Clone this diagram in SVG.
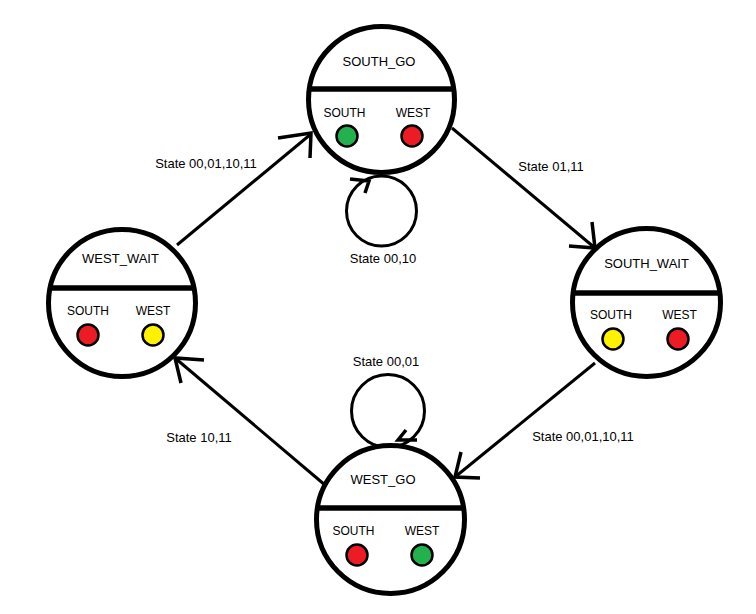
<svg xmlns="http://www.w3.org/2000/svg" width="756" height="614" viewBox="0 0 756 614">
<style>
.node{fill:#fff;stroke:#000;stroke-width:5}
.div{stroke:#000;stroke-width:5.5}
.edge{fill:none;stroke:#000;stroke-width:3}
.head{fill:none;stroke:#000;stroke-width:3.5}
.loop{fill:none;stroke:#000;stroke-width:3}
.lamp{stroke:#000;stroke-width:2.5}
.g{fill:#22b14c}.r{fill:#ed1c24}.y{fill:#fff200}
text{font-family:"Liberation Sans",Arial,sans-serif;fill:#000;text-anchor:middle}
.t{font-size:13px}.s{font-size:12px}.e{font-size:13px}
</style>
<rect width="756" height="614" fill="#fff"/>
<g id="connectors">
  <circle class="loop" cx="381.5" cy="211" r="35"/>
  <polyline class="head" points="350,179 369,181 365,193"/>
  <circle class="loop" cx="388" cy="411" r="36.5"/>
  <polyline class="head" points="417,440 398,440 406,430"/>
  <line class="edge" x1="177" y1="245" x2="311" y2="134"/>
  <polyline class="head" points="278,138 311,133 310,158"/>
  <line class="edge" x1="452" y1="128" x2="595" y2="248"/>
  <polyline class="head" points="569,246 595,248 592,222"/>
  <line class="edge" x1="595" y1="363" x2="455" y2="477"/>
  <polyline class="head" points="480,478 455,477 461,452"/>
  <line class="edge" x1="325" y1="485" x2="175" y2="358"/>
  <polyline class="head" points="204,360 175,358 181,383"/>
  <text class="e" x="206" y="168">State 00,01,10,11</text>
  <text class="e" x="551" y="171">State 01,11</text>
  <text class="e" x="583" y="441">State 00,01,10,11</text>
  <text class="e" x="199" y="442">State 10,11</text>
  <text class="e" x="383" y="263">State 00,10</text>
  <text class="e" x="386" y="366">State 00,01</text>
</g>
<g id="SOUTH_GO">
  <circle class="node" cx="381.5" cy="99.5" r="73"/>
  <line class="div" x1="308.8" y1="89" x2="454.2" y2="89"/>
  <text class="t" x="379" y="66">SOUTH_GO</text>
  <text class="s" x="344.5" y="117">SOUTH</text>
  <text class="s" x="413" y="117">WEST</text>
  <circle class="lamp g" cx="347" cy="136" r="10.5"/>
  <circle class="lamp r" cx="412" cy="136" r="10.5"/>
</g>
<g id="WEST_WAIT">
  <circle class="node" cx="122" cy="303" r="73.5"/>
  <line class="div" x1="48.7" y1="288" x2="195.3" y2="288"/>
  <text class="t" x="120.5" y="263">WEST_WAIT</text>
  <text class="s" x="88" y="315">SOUTH</text>
  <text class="s" x="153" y="315">WEST</text>
  <circle class="lamp r" cx="88" cy="335" r="10.5"/>
  <circle class="lamp y" cx="153" cy="335" r="10.5"/>
</g>
<g id="SOUTH_WAIT">
  <circle class="node" cx="646.5" cy="302.5" r="74"/>
  <line class="div" x1="573.1" y1="293" x2="719.9" y2="293"/>
  <text class="t" x="646.5" y="268">SOUTH_WAIT</text>
  <text class="s" x="611" y="319">SOUTH</text>
  <text class="s" x="679.5" y="319">WEST</text>
  <circle class="lamp y" cx="613" cy="339" r="10.5"/>
  <circle class="lamp r" cx="678" cy="339" r="10.5"/>
</g>
<g id="WEST_GO">
  <circle class="node" cx="390.5" cy="519.5" r="74"/>
  <line class="div" x1="317.3" y1="508" x2="463.7" y2="508"/>
  <text class="t" x="383" y="484">WEST_GO</text>
  <text class="s" x="353.5" y="535">SOUTH</text>
  <text class="s" x="422" y="535">WEST</text>
  <circle class="lamp r" cx="357" cy="555" r="10.5"/>
  <circle class="lamp g" cx="422" cy="555" r="10.5"/>
</g>
</svg>
